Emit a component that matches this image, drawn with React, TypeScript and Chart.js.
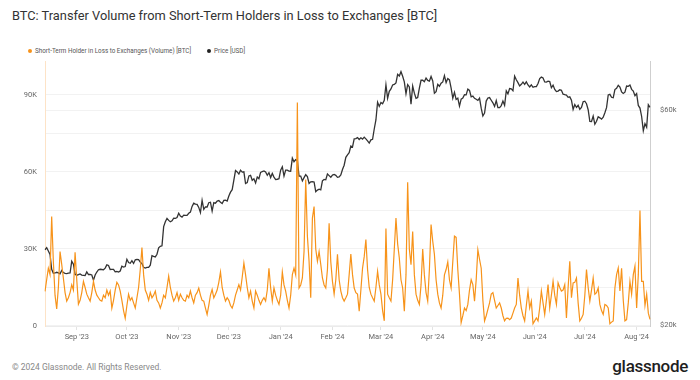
import React, { useEffect, useRef } from "react";
import { Chart, registerables } from "chart.js";

Chart.register(...registerables);

const START_UTC = Date.UTC(2023, 7, 13);

// Short-Term Holder in Loss to Exchanges (Volume) [BTC], daily from 2023-08-13
const volume: number[] = [
  13500, 18000, 22500, 20000, 42600, 25000, 12000, 6600, 15000, 29000,
  24000, 18600, 13000, 9700, 11000, 13000, 16000, 14000, 28700, 18000,
  8500, 10000, 13000, 17400, 15000, 12400, 11000, 9700, 13000, 17400,
  14000, 12000, 11000, 10000, 9700, 12000, 11000, 14000, 12000, 13600,
  7000, 10000, 14000, 17000, 16000, 13600, 10000, 6000, 3000, 8000,
  12400, 10000, 11000, 9000, 7000, 11000, 15000, 22000, 30600, 20000,
  14000, 12400, 10000, 13000, 11000, 12000, 13600, 10000, 9000, 7000,
  9000, 12000, 11000, 15000, 19400, 15000, 12000, 9700, 11000, 13000,
  10000, 12400, 11000, 10000, 9700, 12000, 11000, 13600, 11000, 9000,
  12000, 13000, 14800, 12000, 10000, 9700, 7000, 4500, 8000, 12000,
  14200, 11000, 12400, 14000, 17000, 21000, 15000, 12000, 9700, 11000,
  10000, 8000, 7000, 9000, 12000, 14000, 16100, 14000, 19000, 24500,
  20000, 15000, 11000, 13600, 9700, 7000, 13600, 12000, 10000, 8400,
  10000, 11000, 9700, 14000, 22500, 15000, 9700, 14800, 12000, 10000,
  8400, 12000, 21000, 16000, 13600, 10000, 7000, 12000, 20000, 22500,
  19900, 87000, 14800, 16000, 18700, 29000, 57000, 35000, 25200, 11000,
  42000, 46500, 30000, 25200, 29000, 24000, 18700, 16000, 14800, 22000,
  40000, 25000, 17400, 12400, 18000, 27900, 18000, 13600, 11000, 9700,
  11000, 12400, 20000, 28000, 20000, 14800, 13000, 12400, 5800, 14000,
  22500, 27000, 33700, 22000, 15000, 12400, 11000, 9700, 15000, 21300,
  16000, 12400, 6000, 2000, 38000, 12400, 11000, 9700, 18000, 30000,
  42000, 32000, 26500, 18000, 14800, 5800, 20000, 56000, 30000, 23900,
  36800, 20000, 12400, 10000, 8400, 16000, 30000, 19900, 13000, 9700,
  22000, 39500, 33000, 27900, 18000, 12400, 9000, 7000, 12000, 19900,
  22000, 25000, 18000, 14800, 25000, 35000, 34500, 22000, 12400, 1300,
  4000, 7000, 6000, 8400, 14000, 18000, 16100, 9700, 18000, 29700,
  26000, 22500, 10000, 2000, 4000, 6500, 9000, 12400, 13000, 10000,
  7000, 8000, 9000, 7000, 4000, 2000, 3000, 3100, 2500, 3100,
  5000, 7000, 8400, 18700, 12000, 7000, 4000, 2000, 8000, 13600,
  7000, 9700, 900, 2000, 3100, 2000, 7000, 13600, 9000, 4500,
  10000, 16100, 7000, 12000, 17400, 12000, 8400, 16800, 15000, 13600,
  14000, 16100, 3100, 15000, 25200, 11000, 16800, 17000, 18700, 9000,
  2000, 3000, 4500, 12000, 22000, 15000, 9700, 14000, 18700, 12400,
  13000, 14800, 8400, 6000, 4500, 8400, 8000, 7000, 900, 1500,
  2000, 14800, 20000, 22600, 13600, 22500, 10000, 2000, 2500, 9000,
  17400, 12400, 20000, 23300, 7000, 20000, 45000, 17400, 17400, 8000,
  12400, 5000, 2600,
];

// Price [USD], daily from 2023-08-13
const price: number[] = [
  // Aug 13-31 2023
  29400, 29700, 29200, 28700, 26600, 26050, 26100, 26190, 26120, 25990,
  26440, 26160, 26060, 26010, 26090, 26100, 27720, 27300, 25930,
  // Sep 2023
  25800, 25870, 25970, 25830, 25790, 25750, 26240, 25900, 25900, 25840,
  25160, 25840, 26230, 26540, 26600, 26570, 26530, 26760, 27210, 27130,
  26570, 26580, 26580, 26250, 26300, 26220, 26370, 27020, 26910, 26970,
  // Oct 2023
  27990, 27530, 27430, 27800, 27410, 27930, 27960, 27940, 27590, 27390,
  26870, 26760, 26860, 26860, 27160, 28520, 28420, 28330, 28720, 29680,
  29920, 29990, 33090, 33920, 34500, 34160, 33910, 34090, 34540, 34500, 34670,
  // Nov 2023
  35440, 34940, 34730, 35080, 35050, 35040, 35420, 35630, 36690, 37310,
  37130, 37070, 36500, 35540, 37860, 36160, 36600, 36580, 37390, 37480,
  35810, 37420, 37290, 37720, 37800, 37480, 37250, 37830, 37860, 37710,
  // Dec 2023
  38690, 39460, 39970, 41980, 44080, 43770, 43290, 44170, 43720, 43790,
  41240, 41450, 42890, 43020, 41930, 42240, 41360, 42660, 42260, 43650,
  43860, 43990, 43740, 43020, 43610, 42520, 43440, 42630, 42100, 42160, 42270,
  // Jan 2024
  44170, 44950, 42850, 44180, 44160, 43970, 43930, 46970, 46110, 46630,
  46370, 42850, 42840, 41800, 42510, 43150, 42740, 41260, 41620, 41660,
  41580, 39570, 39890, 40080, 39930, 41820, 42120, 42040, 43300, 42950, 42580,
  // Feb 2024
  43080, 43200, 43000, 42580, 42660, 43090, 44320, 45300, 47150, 47770,
  48290, 49960, 49730, 51830, 51900, 52160, 51660, 52120, 51780, 52280,
  51840, 51300, 50730, 51570, 51730, 54520, 57090, 62500, 61200,
  // Mar 2024
  62440, 62030, 63170, 68330, 63800, 66110, 66930, 68300, 68500, 69020,
  72120, 71480, 73080, 71400, 69400, 65320, 68390, 67600, 61910, 67910,
  65490, 63780, 64060, 67230, 69960, 69990, 69450, 70740, 69890, 69650, 71330,
  // Apr 2024
  69700, 65450, 65980, 68510, 67840, 68900, 69360, 71630, 69140, 70590,
  70060, 67200, 63820, 65740, 63420, 63810, 61280, 63510, 63840, 64990,
  64930, 66840, 66410, 64290, 64500, 63770, 63460, 63120, 63840, 60640,
  // May 2024
  58250, 59120, 62890, 63890, 64030, 63160, 62330, 61190, 63050, 60790,
  60790, 61450, 62900, 61550, 66270, 65230, 67050, 66940, 66280, 71450,
  70140, 69120, 67930, 68530, 69280, 68510, 69390, 68300, 67590, 68360, 67490,
  // Jun 2024
  67710, 67750, 68800, 70570, 71080, 70760, 69340, 69310, 69650, 69500,
  67320, 68240, 66750, 66010, 66190, 66640, 66490, 65140, 64960, 64830,
  64100, 64250, 63180, 60280, 61800, 60870, 61530, 60320, 60890, 62680,
  // Jul 2024
  62850, 62030, 60170, 56660, 56640, 58230, 55860, 56710, 58050, 57720,
  57340, 57900, 59230, 60790, 64870, 65100, 64120, 63970, 66710, 67160,
  68190, 67550, 65930, 65370, 65800, 67910, 67810, 68250, 66780, 66190, 64630,
  // Aug 1-9 2024
  65350, 61500, 60680, 58120, 54030, 56040, 55030, 61710, 60880,
];

const priceTicks: number[] = [20000, 60000];
const volumeTicks: number[] = [0, 15000, 30000, 45000, 60000, 75000, 90000];
const volumeLabelStep = 30000;

const MONTHS = ["Jan", "Feb", "Mar", "Apr", "May", "Jun", "Jul", "Aug", "Sep", "Oct", "Nov", "Dec"];

const dates: string[] = volume.map((_, i) =>
  new Date(START_UTC + i * 86400000).toISOString().slice(0, 10)
);

const FONT = "Roboto, 'Noto Sans', sans-serif";

export default function App() {
  const ref = useRef<HTMLCanvasElement | null>(null);

  useEffect(() => {
    if (!ref.current) return;
    const chart = new Chart(ref.current, {
      type: "line",
      data: {
        labels: dates,
        datasets: [
          {
            label: "Short-Term Holder in Loss to Exchanges (Volume) [BTC]",
            data: volume,
            borderColor: "#f7931a",
            borderWidth: 1.2,
            pointRadius: 0,
            tension: 0,
            yAxisID: "y",
          },
          {
            label: "Price [USD]",
            data: price,
            borderColor: "#333333",
            borderWidth: 1.3,
            pointRadius: 0,
            tension: 0,
            yAxisID: "y1",
          },
        ],
      },
      options: {
        animation: false,
        responsive: false,
        maintainAspectRatio: false,
        layout: { padding: { top: 0, left: 0, right: 0, bottom: 0 } },
        plugins: { legend: { display: false }, tooltip: { enabled: false } },
        scales: {
          x: {
            type: "category",
            grid: { display: true, drawOnChartArea: false, drawTicks: true, tickLength: 4, color: "#e3e3e3" },
            border: { color: "#ebebeb" },
            ticks: {
              autoSkip: false,
              maxRotation: 0,
              padding: 3,
              color: "#666",
              font: { size: 7.5, family: FONT },
              callback: (v: any) => {
                const d = dates[Number(v)];
                const m = MONTHS[Number(d.slice(5, 7)) - 1];
                return m + " '" + d.slice(2, 4);
              },
            },
            afterBuildTicks: (s: any) => {
              s.ticks = s.ticks.filter((t: any) => dates[t.value] && dates[t.value].endsWith("-01"));
            },
            afterFit: (s: any) => {
              s.height = 29;
            },
          },
          y: {
            position: "left",
            min: 0,
            max: 103000,
            grid: { color: "#f2f2f2", drawTicks: false },
            border: { color: "#fde3c7" },
            ticks: {
              autoSkip: false,
              padding: 8,
              color: "#666",
              font: { size: 7.5, family: FONT },
              callback: (v: any) => {
                const n = Math.round(Number(v));
                if (n % volumeLabelStep !== 0) return "";
                return n === 0 ? "0" : n / 1000 + "K";
              },
            },
            afterBuildTicks: (s: any) => {
              s.ticks = volumeTicks.map((value) => ({ value }));
            },
            afterFit: (s: any) => {
              s.width = 45;
            },
          },
          y1: {
            type: "logarithmic",
            position: "right",
            min: 19900,
            max: 77000,
            grid: { color: "#f2f2f2", drawTicks: false },
            border: { color: "#cfcfcf" },
            ticks: {
              autoSkip: false,
              padding: 10,
              color: "#666",
              font: { size: 7.5, family: FONT },
              callback: (v: any) => "$" + Math.round(Number(v) / 1000) + "k",
            },
            afterBuildTicks: (s: any) => {
              s.ticks = priceTicks.map((value) => ({ value }));
            },
            afterFit: (s: any) => {
              s.width = 50;
            },
          },
        },
      },
    });
    return () => chart.destroy();
  }, []);

  return (
    <div
      style={{
        position: "fixed",
        left: 0,
        top: 0,
        width: 700,
        height: 380,
        background: "#fff",
        fontFamily: FONT,
        overflow: "hidden",
      }}
    >
      <div
        style={{
          position: "absolute",
          left: 12,
          top: 8,
          fontSize: 12.8,
          color: "#333",
          whiteSpace: "nowrap",
        }}
      >
        BTC: Transfer Volume from Short-Term Holders in Loss to Exchanges [BTC]
      </div>
      <div
        style={{
          position: "absolute",
          left: 28,
          top: 47,
          fontSize: 6.3,
          color: "#555",
          whiteSpace: "nowrap",
          display: "flex",
          alignItems: "center",
        }}
      >
        <span style={{ display: "inline-block", width: 4, height: 4, borderRadius: 2, background: "#f7931a", marginRight: 3 }} />
        <span>Short-Term Holder in Loss to Exchanges (Volume) [BTC]</span>
        <span style={{ display: "inline-block", width: 4, height: 4, borderRadius: 2, background: "#222", marginLeft: 16, marginRight: 3 }} />
        <span>Price [USD]</span>
      </div>
      <canvas ref={ref} width={700} height={308} style={{ position: "absolute", left: 0, top: 47, width: 700, height: 308 }} />
      <div
        style={{
          position: "absolute",
          left: 12,
          top: 362,
          fontSize: 8.5,
          color: "#888",
          whiteSpace: "nowrap",
        }}
      >
        © 2024 Glassnode. All Rights Reserved.
      </div>
      <div
        style={{
          position: "absolute",
          right: 12,
          top: 356,
          fontSize: 17,
          color: "#1f1f1f",
          fontWeight: 500,
          letterSpacing: -0.3,
          whiteSpace: "nowrap",
        }}
      >
        glassnode
      </div>
    </div>
  );
}
